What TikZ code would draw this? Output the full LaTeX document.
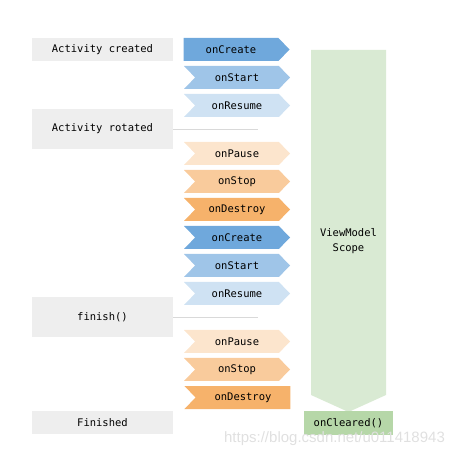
\documentclass[tikz,border=0pt]{standalone}
\usepackage{fontspec}
\newfontfamily\monofont{DejaVu Sans Mono}
\newfontfamily\markfont{Liberation Sans}
\usetikzlibrary{shapes.symbols}

\definecolor{createblue}{HTML}{6FA8DC}
\definecolor{startblue}{HTML}{9FC5E8}
\definecolor{resumeblue}{HTML}{CFE2F3}
\definecolor{pauseorange}{HTML}{FCE5CD}
\definecolor{stoporange}{HTML}{F9CB9C}
\definecolor{destroyorange}{HTML}{F6B26B}
\definecolor{scopegreen}{HTML}{D9EAD3}
\definecolor{clearedgreen}{HTML}{B6D7A8}
\definecolor{eventgray}{HTML}{EEEEEE}
\definecolor{linkgray}{HTML}{D9D9D9}

\begin{document}
\begin{tikzpicture}[x=1pt, y=-1pt,
    event/.style={fill=eventgray, minimum width=141pt, inner sep=0pt,
        font=\monofont\fontsize{10.5}{12}\selectfont},
    stage/.style={signal, signal to=east, signal from=west,
        signal pointer angle=92, minimum width=106pt, minimum height=23pt,
        inner sep=0pt, font=\monofont\fontsize{10.5}{12}\selectfont},
    link/.style={draw=linkgray, line width=0.8pt}]
    \useasboundingbox (0,0) rectangle (461,457);

    % Events
    \node[event, minimum height=23pt] (created) at (102.5,49.5) {Activity created};
    \node[event, minimum height=40pt] (rotated) at (102.5,129) {Activity rotated};
    \node[event, minimum height=40pt] (finish) at (102.5,317) {finish()};
    \node[event, minimum height=23pt] (finished) at (102.5,422.5) {Finished};

    % Links
    \coordinate (rotatedend) at (258,129);
    \coordinate (finishend) at (258,317);
    \draw[link] (rotated.east) -- (rotatedend);
    \draw[link] (finish.east) -- (finishend);

    % First lifecycle
    \node[stage, fill=createblue, signal from=nowhere] (create1) at (231,49.5) {onCreate};
    \node[stage, fill=startblue] (start1) at (237,77.5) {onStart};
    \node[stage, fill=resumeblue] (resume1) at (237,105.5) {onResume};
    \node[stage, fill=pauseorange] (pause1) at (237,153.5) {onPause};
    \node[stage, fill=stoporange] (stop1) at (237,181.5) {onStop};
    \node[stage, fill=destroyorange] (destroy1) at (237,209.5) {onDestroy};

    % Second lifecycle
    \node[stage, fill=createblue] (create2) at (237,237.5) {onCreate};
    \node[stage, fill=startblue] (start2) at (237,265.5) {onStart};
    \node[stage, fill=resumeblue] (resume2) at (237,293.5) {onResume};
    \node[stage, fill=pauseorange] (pause2) at (237,341.5) {onPause};
    \node[stage, fill=stoporange] (stop2) at (237,369.5) {onStop};
    \node[stage, fill=destroyorange, signal to=nowhere] (destroy2) at (243,397.5) {onDestroy};

    % ViewModel scope
    \fill[scopegreen] (311,50) -- (386,50) -- (386,395) -- (348.5,412)
        -- (311,395) -- cycle;
    \node[align=center, font=\monofont\fontsize{10.5}{14.5}\selectfont]
        (scope) at (348.5,241) {ViewModel\\Scope};
    \node[fill=clearedgreen, minimum width=89pt, minimum height=24pt, inner sep=0pt,
        font=\monofont\fontsize{10.5}{12}\selectfont] (cleared) at (348.5,423) {onCleared()};

    % Watermark
    \node[text=black!12, font=\markfont\fontsize{15}{16}\selectfont]
        (mark) at (334.5,438.5) {https://blog.csdn.net/u011418943};
\end{tikzpicture}
\end{document}
